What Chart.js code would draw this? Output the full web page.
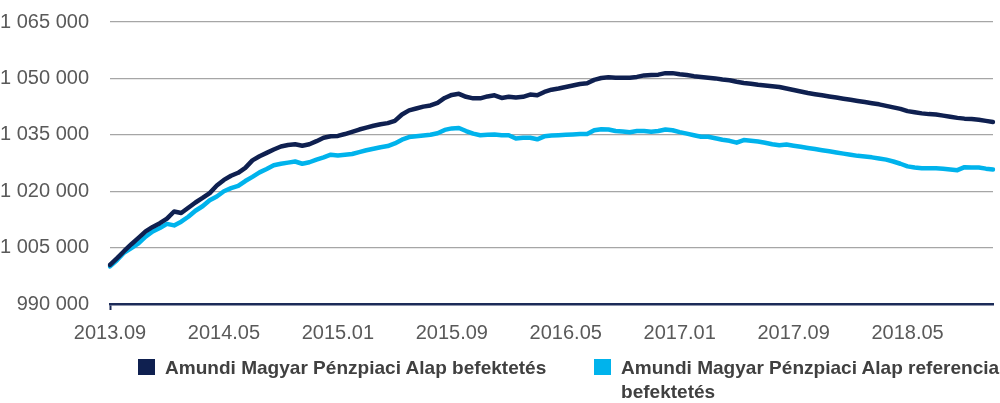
<!DOCTYPE html>
<html>
<head>
<meta charset="utf-8">
<script src="https://cdn.jsdelivr.net/npm/chart.js@4.4.1/dist/chart.umd.min.js"></script>
<style>
  html, body { margin: 0; padding: 0; background: #ffffff; }
  #wrap { position: relative; width: 1000px; height: 403px; overflow: hidden; }
  #c { position: absolute; left: 0; top: 0; }
  .leg { position: absolute; font-family: "Liberation Sans", Arial, sans-serif; font-weight: bold; font-size: 19px; line-height: 24px; color: #404040; white-space: nowrap; transform-origin: 0 0; }
  .sw { position: absolute; width: 17px; height: 16px; }
</style>
</head>
<body>
<div id="wrap">
  <canvas id="c" width="1000" height="403"></canvas>
  <div class="sw" id="sw1" style="left:138px; top:359px;"></div>
  <div class="leg" id="lg1" style="left:165px; top:356px;"></div>
  <div class="sw" id="sw2" style="left:594px; top:359px;"></div>
  <div class="leg" id="lg2" style="left:621px; top:356px;"></div>
</div>
<script>
// Half-monthly observation dates
const dates = [
'2013.09.01','2013.09.16','2013.10.01','2013.10.16','2013.11.01','2013.11.16','2013.12.01','2013.12.16',
'2014.01.01','2014.01.16','2014.02.01','2014.02.16','2014.03.01','2014.03.16','2014.04.01','2014.04.16',
'2014.05.01','2014.05.16','2014.06.01','2014.06.16','2014.07.01','2014.07.16','2014.08.01','2014.08.16',
'2014.09.01','2014.09.16','2014.10.01','2014.10.16','2014.11.01','2014.11.16','2014.12.01','2014.12.16',
'2015.01.01','2015.01.16','2015.02.01','2015.02.16','2015.03.01','2015.03.16','2015.04.01','2015.04.16',
'2015.05.01','2015.05.16','2015.06.01','2015.06.16','2015.07.01','2015.07.16','2015.08.01','2015.08.16',
'2015.09.01','2015.09.16','2015.10.01','2015.10.16','2015.11.01','2015.11.16','2015.12.01','2015.12.16',
'2016.01.01','2016.01.16','2016.02.01','2016.02.16','2016.03.01','2016.03.16','2016.04.01','2016.04.16',
'2016.05.01','2016.05.16','2016.06.01','2016.06.16','2016.07.01','2016.07.16','2016.08.01','2016.08.16',
'2016.09.01','2016.09.16','2016.10.01','2016.10.16','2016.11.01','2016.11.16','2016.12.01','2016.12.16',
'2017.01.01','2017.01.16','2017.02.01','2017.02.16','2017.03.01','2017.03.16','2017.04.01','2017.04.16',
'2017.05.01','2017.05.16','2017.06.01','2017.06.16','2017.07.01','2017.07.16','2017.08.01','2017.08.16',
'2017.09.01','2017.09.16','2017.10.01','2017.10.16','2017.11.01','2017.11.16','2017.12.01','2017.12.16',
'2018.01.01','2018.01.16','2018.02.01','2018.02.16','2018.03.01','2018.03.16','2018.04.01','2018.04.16',
'2018.05.01','2018.05.16','2018.06.01','2018.06.16','2018.07.01','2018.07.16','2018.08.01','2018.08.16',
'2018.09.01','2018.09.16','2018.10.01','2018.10.16','2018.11.01'
];

const fundValues = [
1000400,1002200,1004100,1005900,1007600,1009300,1010500,1011500,
1012700,1014600,1014200,1015600,1017000,1018200,1019500,1021500,
1023000,1024100,1024900,1026200,1028200,1029300,1030200,1031100,
1031900,1032300,1032500,1032100,1032500,1033300,1034200,1034600,
1034700,1035200,1035800,1036400,1036900,1037400,1037800,1038100,
1038700,1040400,1041500,1042000,1042500,1042800,1043500,1044800,
1045600,1045900,1045100,1044700,1044700,1045200,1045500,1044800,
1045100,1044900,1045100,1045700,1045500,1046400,1047000,1047300,
1047700,1048100,1048500,1048700,1049600,1050100,1050300,1050200,
1050200,1050200,1050400,1050800,1050900,1051000,1051400,1051400,
1051100,1050900,1050600,1050400,1050200,1050000,1049700,1049500,
1049100,1048800,1048600,1048300,1048100,1047900,1047700,1047300,
1046900,1046500,1046100,1045800,1045500,1045200,1044900,1044600,
1044300,1044000,1043700,1043400,1043100,1042700,1042300,1041900,
1041300,1041000,1040700,1040500,1040400,1040100,1039800,1039500,
1039300,1039200,1039000,1038700,1038400
];

const benchmarkValues = [
1000000,1001700,1003700,1004900,1006100,1007900,1009300,1010200,
1011300,1010900,1011900,1013200,1014800,1016000,1017600,1018600,
1020000,1020800,1021400,1022700,1023800,1025000,1025900,1026900,
1027300,1027600,1027900,1027300,1027700,1028400,1029000,1029700,
1029500,1029700,1029900,1030400,1030900,1031300,1031700,1032000,
1032700,1033700,1034400,1034600,1034800,1035000,1035400,1036300,
1036700,1036800,1036000,1035300,1034900,1035000,1035100,1034900,
1034900,1034000,1034200,1034200,1033800,1034600,1034800,1034900,
1035000,1035100,1035200,1035200,1036200,1036500,1036400,1036000,
1035900,1035700,1036000,1036000,1035800,1036000,1036400,1036200,
1035700,1035300,1034900,1034500,1034500,1034100,1033700,1033400,
1032900,1033600,1033400,1033200,1032900,1032500,1032200,1032400,
1032100,1031800,1031500,1031200,1030900,1030600,1030300,1030000,
1029700,1029400,1029200,1029000,1028700,1028400,1027900,1027300,
1026600,1026300,1026100,1026100,1026100,1026000,1025800,1025600,
1026400,1026300,1026300,1026000,1025800
];

const xTickLabels = ['2013.09','2014.05','2015.01','2015.09','2016.05','2017.01','2017.09','2018.05'];
const yTicks = [990000, 1005000, 1020000, 1035000, 1050000, 1065000];
const seriesNames = ['Amundi Magyar Pénzpiaci Alap befektetés', 'Amundi Magyar Pénzpiaci Alap referencia befektetés'];
const seriesColors = ['#0f2050', '#00b3ec'];

const NAVY_AXIS = '#1c2b58';
const TICK_COLOR = '#595959';
const TICK_FONT = { family: '"Liberation Sans", Arial, sans-serif', size: 20 };

function labelFor(i) {
  const d = dates[i];
  if (!d || d.slice(8) !== '01') return null;
  const m = d.slice(0, 7);
  return xTickLabels.includes(m) ? m : null;
}

function fmt(v) {
  return String(v).replace(/\B(?=(\d{3})+(?!\d))/g, ' ');
}

// HTML legend (condensed to match the narrow bold face of the original)
document.getElementById('sw1').style.background = seriesColors[0];
document.getElementById('sw2').style.background = seriesColors[1];
const lg1 = document.getElementById('lg1');
const lg2 = document.getElementById('lg2');
lg1.textContent = seriesNames[0];
lg2.innerHTML = 'Amundi Magyar Pénzpiaci Alap referencia<br>befektetés';
(function condense() {
  const mc = document.createElement('canvas').getContext('2d');
  mc.font = 'bold 19px "Liberation Sans", Arial, sans-serif';
  const w = mc.measureText(seriesNames[0]).width;
  const s = 382 / w;
  lg1.style.transform = 'scaleX(' + s + ')';
  lg2.style.transform = 'scaleX(' + s + ')';
})();

new Chart(document.getElementById('c'), {
  type: 'line',
  data: {
    labels: dates,
    datasets: [
      { label: seriesNames[0], data: fundValues, borderColor: seriesColors[0], backgroundColor: seriesColors[0],
        borderWidth: 4.5, pointRadius: 0, tension: 0, borderCapStyle: 'round', borderJoinStyle: 'round', fill: false },
      { label: seriesNames[1], data: benchmarkValues, borderColor: seriesColors[1], backgroundColor: seriesColors[1],
        borderWidth: 4.5, pointRadius: 0, tension: 0, borderCapStyle: 'round', borderJoinStyle: 'round', fill: false }
    ]
  },
  options: {
    responsive: false,
    animation: false,
    layout: { padding: { top: 22, right: 7, bottom: 59, left: 0 } },
    plugins: { legend: { display: false }, tooltip: { enabled: false } },
    scales: {
      x: {
        type: 'category',
        offset: false,
        grid: {
          display: true,
          drawOnChartArea: false,
          drawTicks: true,
          tickLength: 6,
          tickWidth: 2,
          tickColor: ctx => labelFor(ctx.index) ? NAVY_AXIS : 'rgba(0,0,0,0)',
          color: 'rgba(0,0,0,0)'
        },
        border: { display: true, color: NAVY_AXIS, width: 2.5 },
        ticks: {
          autoSkip: false,
          maxRotation: 0,
          minRotation: 0,
          padding: 11,
          color: TICK_COLOR,
          font: TICK_FONT,
          callback: (v, i) => labelFor(i)
        },
        afterFit: s => { s.height = 40; s.paddingLeft = 0; s.paddingRight = 0; }
      },
      y: {
        min: 990000,
        max: 1065000,
        afterBuildTicks: s => { s.ticks = yTicks.map(v => ({ value: v })); },
        grid: { color: '#a6a6a6', lineWidth: 1.3, drawTicks: false },
        border: { display: false },
        ticks: { padding: 21, color: TICK_COLOR, font: TICK_FONT, callback: v => fmt(v) },
        afterFit: s => { s.width = 110; s.paddingTop = 0; s.paddingBottom = 0; }
      }
    }
  }
});
</script>
</body>
</html>
